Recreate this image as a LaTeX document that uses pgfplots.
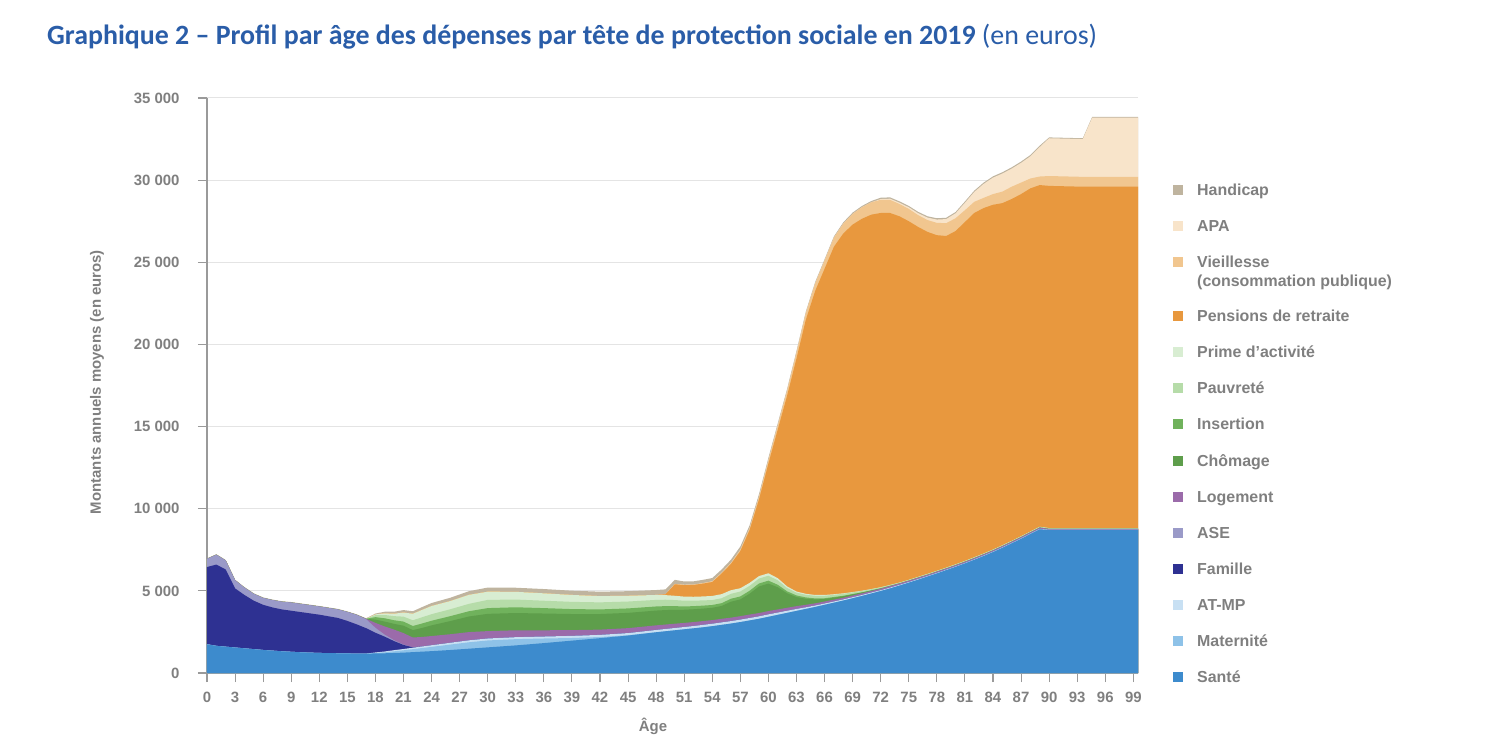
\documentclass[border=0pt]{standalone}
\usepackage{pgfplots}
\pgfplotsset{compat=1.18}
\usepackage{pgfplotstable}
\usepackage{fontspec}
\setmainfont{Liberation Sans}
\newfontfamily\titlefont{Carlito}

\definecolor{csante}{HTML}{3D8BCD}
\definecolor{cmat}{HTML}{8EC2E8}
\definecolor{catmp}{HTML}{C8E0F3}
\definecolor{cfam}{HTML}{2E3192}
\definecolor{case}{HTML}{9A9AC8}
\definecolor{clog}{HTML}{9B6BAA}
\definecolor{cchom}{HTML}{5E9E4B}
\definecolor{cins}{HTML}{70B25C}
\definecolor{cpauv}{HTML}{B6DCA9}
\definecolor{cprime}{HTML}{D8EDD2}
\definecolor{cpens}{HTML}{E8983E}
\definecolor{cvieil}{HTML}{F1C68F}
\definecolor{capa}{HTML}{F8E4CA}
\definecolor{chand}{HTML}{BFB49F}
\definecolor{axisgray}{HTML}{9A9A9A}
\definecolor{labelgray}{HTML}{7F7F7F}
\definecolor{gridgray}{HTML}{E4E4E4}
\definecolor{titleblue}{HTML}{2A5DA8}

\pgfplotstableread{
age sante mat atmp fam ase log chom ins pauv prime pens vieil apa hand
0 1750 0 0 4700 500 0 0 0 0 0 0 0 0 30
1 1650 0 0 4950 600 0 0 0 0 0 0 0 0 30
2 1600 0 0 4700 550 0 0 0 0 0 0 0 0 30
3 1550 0 0 3600 500 0 0 0 0 0 0 0 0 30
4 1500 0 0 3250 450 0 0 0 0 0 0 0 0 30
5 1450 0 0 2950 420 0 0 0 0 0 0 0 0 30
6 1400 0 0 2750 420 0 0 0 0 0 0 0 0 30
7 1360 0 0 2630 450 0 0 0 0 0 0 0 0 30
8 1320 0 0 2550 470 0 0 0 0 0 0 0 0 30
9 1290 0 0 2500 500 0 0 0 0 0 0 0 0 30
10 1260 0 0 2450 500 0 0 0 0 0 0 0 0 30
12 1220 0 0 2330 500 0 0 0 0 0 0 0 0 30
14 1200 0 0 2150 520 0 0 0 0 0 0 0 0 30
15 1190 0 0 1980 550 0 0 0 0 0 0 0 0 30
16 1180 0 0 1780 580 0 0 0 0 0 0 0 0 30
17 1180 0 0 1550 550 20 0 0 0 0 0 0 0 30
18 1190 30 30 1200 300 300 200 150 120 50 0 0 0 50
19 1200 60 50 900 120 500 300 200 200 100 0 0 0 100
20 1220 100 70 550 50 650 350 220 250 150 0 0 0 120
21 1240 140 80 250 20 700 450 250 300 250 0 0 0 150
22 1270 180 90 20 0 600 450 250 350 400 0 0 0 150
23 1300 220 95 0 0 580 550 270 380 450 0 0 0 170
24 1330 260 100 0 0 560 650 280 400 500 0 0 0 180
26 1400 330 110 0 0 520 800 300 420 500 0 0 0 200
28 1480 390 120 0 0 500 950 320 450 550 0 0 0 220
30 1560 420 120 0 0 450 1050 350 500 500 0 0 0 250
33 1680 380 120 0 0 420 1050 350 470 470 0 0 0 250
36 1820 280 120 0 0 380 1020 330 450 450 0 0 0 260
39 1970 160 130 0 0 350 980 300 440 420 0 0 0 260
42 2120 70 130 0 0 320 950 280 430 380 0 0 0 270
45 2280 20 130 0 0 300 930 270 420 350 0 0 0 280
48 2480 0 140 0 0 280 900 250 400 300 0 0 0 300
49 2540 0 140 0 0 270 880 240 390 280 50 0 0 300
50 2600 0 140 0 0 260 850 220 370 260 700 20 0 250
51 2660 0 140 0 0 250 800 200 350 250 700 20 0 200
52 2720 0 140 0 0 240 780 190 330 240 720 20 0 200
53 2780 0 150 0 0 230 760 180 320 240 780 30 0 200
54 2850 0 150 0 0 220 750 170 300 250 850 40 0 200
55 2930 0 150 0 0 220 780 170 300 250 1250 50 0 200
56 3010 0 150 0 0 210 970 180 300 220 1600 60 0 200
57 3100 0 150 0 0 210 1020 180 300 200 2260 80 0 200
58 3200 0 150 0 0 210 1270 180 300 180 3230 100 0 180
59 3300 0 150 0 0 200 1620 180 300 150 4680 150 0 170
60 3420 0 150 0 0 200 1670 180 300 150 6680 200 0 150
61 3540 0 140 0 0 190 1350 150 270 130 9050 250 0 130
62 3660 0 130 0 0 180 880 120 200 100 11610 300 0 120
63 3780 0 120 0 0 170 550 100 170 70 14180 350 0 110
64 3900 0 100 0 0 150 370 80 160 60 16680 400 0 100
65 4020 0 90 0 0 130 240 60 160 50 18510 450 0 90
66 4150 0 80 0 0 120 150 50 150 50 19850 500 0 80
67 4280 0 75 0 0 110 120 40 130 40 21150 550 0 80
68 4410 0 70 0 0 100 90 30 120 30 21900 600 0 80
69 4550 0 65 0 0 100 70 20 100 20 22370 650 0 80
70 4690 0 60 0 0 100 50 10 80 20 22640 700 0 80
71 4840 0 60 0 0 90 30 10 70 10 22790 750 0 80
72 4990 0 50 0 0 90 20 0 60 10 22780 800 50 80
73 5150 0 50 0 0 90 10 0 50 10 22640 800 70 80
74 5320 0 45 0 0 85 0 0 50 0 22300 750 80 80
75 5500 0 40 0 0 80 0 0 50 0 21830 750 100 80
76 5680 0 40 0 0 80 0 0 50 0 21300 720 120 80
77 5870 0 35 0 0 75 0 0 50 0 20820 720 150 80
78 6060 0 35 0 0 75 0 0 50 0 20430 750 200 80
79 6260 0 30 0 0 70 0 0 50 0 20190 780 250 80
80 6460 0 30 0 0 70 0 0 50 0 20290 780 300 80
81 6670 0 30 0 0 70 0 0 50 0 20630 720 450 80
82 6890 0 30 0 0 70 0 0 50 0 20960 680 600 80
83 7120 0 30 0 0 70 0 0 50 0 21030 620 850 80
84 7360 0 30 0 0 70 0 0 50 0 20990 650 1000 80
85 7620 0 30 0 0 70 0 0 50 0 20830 700 1100 80
86 7890 0 30 0 0 70 0 0 50 0 20810 750 1100 80
87 8170 0 30 0 0 70 0 0 50 0 20830 700 1200 80
88 8460 0 30 0 0 70 0 0 50 0 20890 600 1350 80
89 8750 0 30 0 0 70 0 0 50 0 20800 520 1800 80
90 8700 0 20 0 0 50 0 0 50 0 20830 600 2300 50
93.6 8700 0 20 0 0 50 0 0 50 0 20780 600 2300 50
94.6 8700 0 20 0 0 50 0 0 50 0 20780 600 3600 50
99.5 8700 0 20 0 0 50 0 0 50 0 20780 600 3600 50
}\data

\newcommand\cA{\thisrow{sante}}
\newcommand\cB{\cA+\thisrow{mat}}
\newcommand\cC{\cB+\thisrow{atmp}}
\newcommand\cD{\cC+\thisrow{fam}}
\newcommand\cE{\cD+\thisrow{ase}}
\newcommand\cF{\cE+\thisrow{log}}
\newcommand\cG{\cF+\thisrow{chom}}
\newcommand\cH{\cG+\thisrow{ins}}
\newcommand\cI{\cH+\thisrow{pauv}}
\newcommand\cJ{\cI+\thisrow{prime}}
\newcommand\cK{\cJ+\thisrow{pens}}
\newcommand\cL{\cK+\thisrow{vieil}}
\newcommand\cM{\cL+\thisrow{apa}}
\newcommand\cN{\cM+\thisrow{hand}}

\newcommand\lgent[1]{\rule[-4pt]{0pt}{15.5pt}#1}

\begin{document}
\begin{tikzpicture}
\useasboundingbox (-207bp,-65bp) rectangle (1279bp,673bp);
\node[anchor=base west, text=titleblue, inner sep=0pt] at (-160bp,628bp)
  {\titlefont\fontsize{28}{33}\selectfont\bfseries Graphique 2 – Profil par âge des dépenses par tête de protection sociale en 2019 {\mdseries(en euros)}};
\begin{axis}[
  at={(0,0)}, anchor=south west,
  scale only axis, width=931bp, height=575bp,
  xmin=0, xmax=99.5, ymin=0, ymax=35000,
  axis x line*=bottom, axis y line*=left,
  axis line style={draw=axisgray, line width=1.3bp},
  xtick={0,3,...,99},
  ytick={0,5000,...,35000},
  scaled y ticks=false,
  yticklabels={0,5 000,10 000,15 000,20 000,25 000,30 000,35 000},
  /pgf/number format/assume math mode=true,
  tick align=outside, major tick length=9bp,
  tick style={draw=axisgray, line width=1.1bp},
  ymajorgrids, grid style={draw=gridgray, line width=1bp},
  ticklabel style={font=\fontsize{15}{18}\selectfont\bfseries, text=labelgray},
  yticklabel style={xshift=-15bp},
  xticklabel style={yshift=-7bp},
  ylabel={Montants annuels moyens (en euros)},
  xlabel={Âge},
  every axis y label/.style={at={(axis description cs:-0.1182,0.506)}, rotate=90, anchor=center,
    font=\fontsize{15}{18}\selectfont\bfseries, text=labelgray},
  every axis x label/.style={at={(axis description cs:0.479,-0.092)}, anchor=center,
    font=\fontsize{15}{18}\selectfont\bfseries, text=labelgray},
  legend image code/.code={\fill[#1] (0bp,0.5bp) rectangle (10bp,10.5bp);},
  legend style={at={(1.0376,0.8513)}, anchor=north west, draw=none, fill=none,
    inner sep=0pt, row sep=20.5bp, column sep=14bp,
    cells={anchor=base west},
    nodes={inner sep=0pt, text depth={}, text height={}, text=labelgray, font=\fontsize{16}{19}\selectfont\bfseries}},
]
\addplot[fill=chand, draw=none] table[x=age, y expr=\cN] {\data} \closedcycle;
\addlegendentry{\lgent{Handicap}}
\addplot[fill=capa, draw=none] table[x=age, y expr=\cM] {\data} \closedcycle;
\addlegendentry{\lgent{APA}}
\addplot[fill=cvieil, draw=none] table[x=age, y expr=\cL] {\data} \closedcycle;
\addlegendentry{\parbox[t]{220bp}{\lgent{Vieillesse}\\(consommation publique)}}
\addplot[fill=cpens, draw=none] table[x=age, y expr=\cK] {\data} \closedcycle;
\addlegendentry{\lgent{Pensions de retraite}}
\addplot[fill=cprime, draw=none] table[x=age, y expr=\cJ] {\data} \closedcycle;
\addlegendentry{\lgent{Prime d'activité}}
\addplot[fill=cpauv, draw=none] table[x=age, y expr=\cI] {\data} \closedcycle;
\addlegendentry{\lgent{Pauvreté}}
\addplot[fill=cins, draw=none] table[x=age, y expr=\cH] {\data} \closedcycle;
\addlegendentry{\lgent{Insertion}}
\addplot[fill=cchom, draw=none] table[x=age, y expr=\cG] {\data} \closedcycle;
\addlegendentry{\lgent{Chômage}}
\addplot[fill=clog, draw=none] table[x=age, y expr=\cF] {\data} \closedcycle;
\addlegendentry{\lgent{Logement}}
\addplot[fill=case, draw=none] table[x=age, y expr=\cE] {\data} \closedcycle;
\addlegendentry{\lgent{ASE}}
\addplot[fill=cfam, draw=none] table[x=age, y expr=\cD] {\data} \closedcycle;
\addlegendentry{\lgent{Famille}}
\addplot[fill=catmp, draw=none] table[x=age, y expr=\cC] {\data} \closedcycle;
\addlegendentry{\lgent{AT-MP}}
\addplot[fill=cmat, draw=none] table[x=age, y expr=\cB] {\data} \closedcycle;
\addlegendentry{\lgent{Maternité}}
\addplot[fill=csante, draw=none] table[x=age, y expr=\cA] {\data} \closedcycle;
\addlegendentry{\lgent{Santé}}
\end{axis}
\end{tikzpicture}
\end{document}
